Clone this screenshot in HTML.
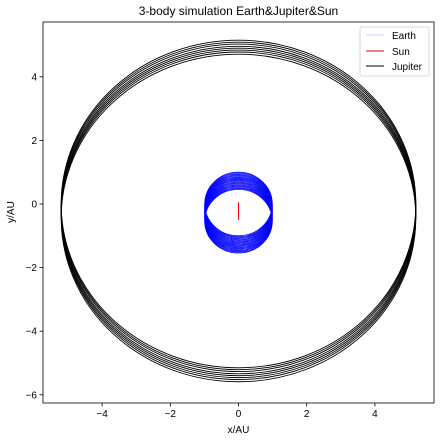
<!DOCTYPE html>
<html><head><meta charset="utf-8"><style>
body{margin:0;background:#fff}
svg text{font-family:"Liberation Sans",sans-serif;font-size:10px;fill:#000}
</style></head><body>
<svg id="c" width="444" height="441">
<rect width="444" height="441" fill="#fff"/>
<text x="238.5" y="15" text-anchor="middle" font-size="12" style="font-size:12px">3-body simulation Earth&amp;Jupiter&amp;Sun</text>
<g id="plot"></g>
<rect x="43" y="22" width="391" height="381" fill="none" stroke="#000" stroke-width="0.8"/>
<g id="ticks"></g>
<text x="238.5" y="433" text-anchor="middle">x/AU</text>
<text x="14" y="212" text-anchor="middle" transform="rotate(-90 14 212)">y/AU</text>
<g>
<rect x="360" y="27" width="69" height="49" rx="2" fill="#fff" stroke="#ccc" stroke-width="0.8"/>
<line x1="366" y1="35" x2="384" y2="35" stroke="#ccf"/>
<text x="392" y="39">Earth</text>
<line x1="366" y1="51" x2="384" y2="51" stroke="#d00"/>
<text x="392" y="55">Sun</text>
<line x1="366" y1="66" x2="384" y2="66" stroke="#000"/>
<text x="392" y="70">Jupiter</text>
</g>
</svg>
<script>
const xTicks=[-4,-2,0,2,4];
const yTicks=[4,2,0,-2,-4,-6];
const jupiterCenters=[0.0,-0.06,-0.12,-0.19,-0.25,-0.31,-0.37,-0.44];
const jupiterRadius=[5.2,5.15];
const earthCenters=[0.0,-0.03,-0.06,-0.09,-0.12,-0.15,-0.18,-0.21,-0.24,-0.27,-0.30,-0.33,-0.36,-0.39,-0.42,-0.45,-0.48,-0.51,-0.54];
const earthRadius=[0.99,1.0];
const sunPath=[0.05,-0.5];
const NS='http://www.w3.org/2000/svg';
const sx=v=>238.5+v*34.1, sy=v=>204-v*31.8;
const plot=document.getElementById('plot'), tk=document.getElementById('ticks');
function mk(t,a,p){const e=document.createElementNS(NS,t);for(const k in a)e.setAttribute(k,a[k]);p.appendChild(e);return e;}
jupiterCenters.forEach(c=>{const e=mk('ellipse',{cx:sx(0),cy:sy(c),rx:jupiterRadius[0]*34.1,ry:jupiterRadius[1]*31.8,fill:'none',stroke:'#000','stroke-width':0.9},plot);

});
earthCenters.forEach(c=>{const e=mk('ellipse',{cx:sx(0),cy:sy(c),rx:earthRadius[0]*34.1,ry:earthRadius[1]*31.8,fill:'none',stroke:'#00f','stroke-width':0.8},plot);

});
const s=mk('line',{x1:sx(0),x2:sx(0),y1:sy(sunPath[0]),y2:sy(sunPath[1]),stroke:'#f00','stroke-width':1},plot);


const fmt=v=>v<0?'\u2212'+(-v):''+v;
xTicks.forEach(v=>{mk('line',{x1:sx(v),x2:sx(v),y1:403,y2:406.5,stroke:'#000','stroke-width':0.8},tk);
const t=mk('text',{x:sx(v),y:417,'text-anchor':'middle'},tk);t.textContent=fmt(v);

});
yTicks.forEach(v=>{mk('line',{x1:39.5,x2:43,y1:sy(v),y2:sy(v),stroke:'#000','stroke-width':0.8},tk);
const t=mk('text',{x:37,y:sy(v)+3.5,'text-anchor':'end'},tk);t.textContent=fmt(v);

});
</script>
</body></html>
